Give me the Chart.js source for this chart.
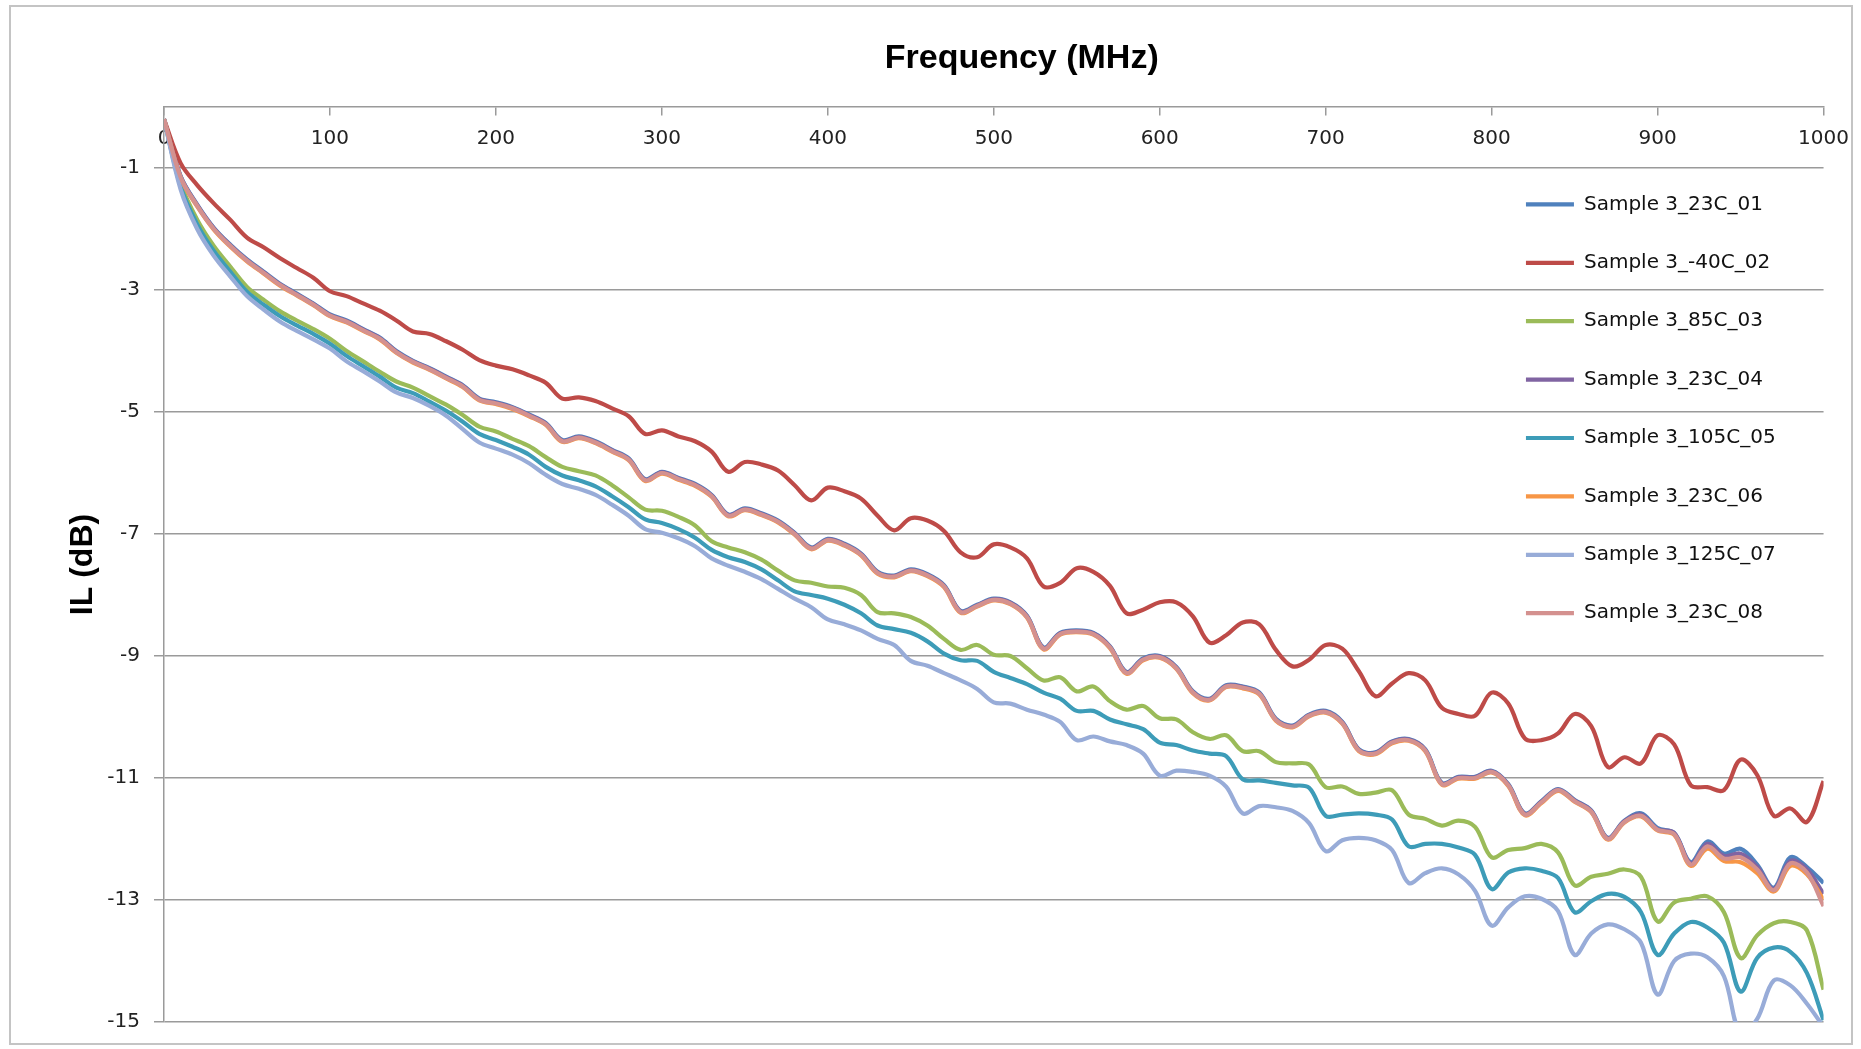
<!DOCTYPE html>
<html>
<head>
<meta charset="utf-8">
<title>Insertion loss vs frequency</title>
<script src="https://cdn.jsdelivr.net/npm/chart.js@4.4.0/dist/chart.umd.min.js"></script>
<style>
  html, body { margin:0; padding:0; background:#fff; }
  #wrap { position:relative; width:1861px; height:1049px; }
  #frame { position:absolute; left:9px; top:5px; width:1840px; height:1036px; border:2px solid #c4c4c4; pointer-events:none; }
</style>
</head>
<body>
<div id="wrap">
  <canvas id="ilChart"></canvas>
  <div id="frame"></div>
</div>
<script>
/* ===== DATA ===== */
const xTitle = 'Frequency (MHz)';
const yTitle = 'IL (dB)';
const xTicks = [0,100,200,300,400,500,600,700,800,900,1000];
const yTicks = [-1,-3,-5,-7,-9,-11,-13,-15];

const freqMHz = [
  0,10,20,30,40,50,60,70,80,90,100,110,120,130,140,150,160,170,180,190,
  200,210,220,230,240,250,260,270,280,290,300,310,320,330,340,350,360,370,380,390,
  400,410,420,430,440,450,460,470,480,490,500,510,520,530,540,550,560,570,580,590,
  600,610,620,630,640,650,660,670,680,690,700,710,720,730,740,750,760,770,780,790,
  800,810,820,830,840,850,860,870,880,890,900,910,920,930,940,950,960,970,980,990,1000
];

const seriesNames = ['Sample 3_23C_01','Sample 3_-40C_02','Sample 3_85C_03','Sample 3_23C_04',
                     'Sample 3_105C_05','Sample 3_23C_06','Sample 3_125C_07','Sample 3_23C_08'];
const seriesColors = ['#4F81BD','#BE4B48','#9BBB59','#8064A2','#3D9CB8','#F79646','#98ACD8','#D4918F'];

const il01 = [
  -0.2,-1.13,-1.6,-1.98,-2.26,-2.5,-2.7,-2.9,-3.06,-3.22,
  -3.4,-3.5,-3.64,-3.78,-4.0,-4.16,-4.28,-4.42,-4.56,-4.78,
  -4.84,-4.92,-5.04,-5.18,-5.46,-5.4,-5.48,-5.62,-5.76,-6.1,
  -5.98,-6.08,-6.18,-6.36,-6.68,-6.58,-6.66,-6.78,-6.98,-7.22,
  -7.08,-7.16,-7.32,-7.62,-7.68,-7.58,-7.66,-7.84,-8.26,-8.16,
  -8.06,-8.12,-8.34,-8.86,-8.62,-8.58,-8.62,-8.84,-9.26,-9.04,
  -9.0,-9.18,-9.58,-9.7,-9.48,-9.5,-9.6,-10.03,-10.14,-9.96,
  -9.9,-10.08,-10.53,-10.58,-10.4,-10.36,-10.53,-11.08,-10.98,-10.98,
  -10.88,-11.1,-11.58,-11.38,-11.18,-11.36,-11.53,-11.98,-11.7,-11.58,
  -11.82,-11.9,-12.38,-12.04,-12.24,-12.16,-12.42,-12.8,-12.3,-12.46,
  -12.72
];
const il02 = [
  -0.2,-0.92,-1.28,-1.58,-1.85,-2.14,-2.3,-2.48,-2.64,-2.8,
  -3.02,-3.1,-3.22,-3.34,-3.5,-3.68,-3.72,-3.84,-3.98,-4.15,
  -4.24,-4.3,-4.4,-4.52,-4.78,-4.76,-4.82,-4.94,-5.07,-5.36,
  -5.3,-5.4,-5.48,-5.65,-5.98,-5.82,-5.86,-5.96,-6.2,-6.45,
  -6.24,-6.3,-6.42,-6.7,-6.94,-6.74,-6.78,-6.95,-7.3,-7.38,
  -7.17,-7.22,-7.4,-7.86,-7.8,-7.56,-7.62,-7.85,-8.3,-8.24,
  -8.12,-8.12,-8.35,-8.78,-8.66,-8.45,-8.48,-8.9,-9.17,-9.06,
  -8.82,-8.88,-9.25,-9.66,-9.45,-9.28,-9.4,-9.85,-9.95,-9.98,
  -9.6,-9.78,-10.35,-10.38,-10.27,-9.95,-10.15,-10.82,-10.66,-10.76,
  -10.3,-10.45,-11.12,-11.15,-11.2,-10.7,-10.95,-11.62,-11.5,-11.72,
  -11.05
];
const il03 = [
  -0.2,-1.25,-1.85,-2.28,-2.62,-2.95,-3.16,-3.35,-3.5,-3.64,
  -3.8,-4.0,-4.17,-4.34,-4.5,-4.6,-4.74,-4.88,-5.05,-5.24,
  -5.32,-5.44,-5.56,-5.74,-5.9,-5.97,-6.04,-6.2,-6.4,-6.6,
  -6.62,-6.72,-6.86,-7.12,-7.22,-7.3,-7.42,-7.6,-7.76,-7.8,
  -7.86,-7.88,-8.0,-8.28,-8.3,-8.36,-8.5,-8.72,-8.9,-8.82,
  -8.98,-9.0,-9.2,-9.4,-9.35,-9.58,-9.5,-9.74,-9.88,-9.82,
  -10.02,-10.04,-10.25,-10.36,-10.3,-10.56,-10.56,-10.74,-10.76,-10.78,
  -11.15,-11.14,-11.26,-11.24,-11.2,-11.6,-11.67,-11.78,-11.7,-11.8,
  -12.3,-12.18,-12.15,-12.08,-12.22,-12.76,-12.62,-12.57,-12.5,-12.62,
  -13.35,-13.04,-12.98,-12.94,-13.2,-13.95,-13.58,-13.38,-13.36,-13.5,
  -14.47
];
const il04 = [
  -0.2,-1.14,-1.61,-1.99,-2.27,-2.51,-2.71,-2.91,-3.07,-3.23,
  -3.41,-3.51,-3.65,-3.79,-4.01,-4.17,-4.29,-4.43,-4.57,-4.79,
  -4.85,-4.93,-5.05,-5.19,-5.47,-5.41,-5.49,-5.63,-5.77,-6.11,
  -5.99,-6.09,-6.19,-6.37,-6.69,-6.59,-6.67,-6.79,-6.99,-7.23,
  -7.09,-7.17,-7.33,-7.63,-7.69,-7.59,-7.67,-7.85,-8.27,-8.17,
  -8.07,-8.13,-8.35,-8.87,-8.63,-8.59,-8.63,-8.85,-9.27,-9.05,
  -9.01,-9.19,-9.59,-9.71,-9.49,-9.51,-9.61,-10.04,-10.15,-9.97,
  -9.91,-10.09,-10.54,-10.59,-10.41,-10.37,-10.54,-11.09,-10.99,-10.99,
  -10.89,-11.11,-11.59,-11.39,-11.19,-11.37,-11.54,-11.99,-11.71,-11.6,
  -11.84,-11.9,-12.4,-12.08,-12.28,-12.24,-12.46,-12.82,-12.36,-12.5,
  -12.9
];
const il05 = [
  -0.2,-1.3,-1.92,-2.36,-2.7,-3.03,-3.24,-3.43,-3.58,-3.72,
  -3.88,-4.08,-4.25,-4.42,-4.6,-4.69,-4.83,-4.98,-5.16,-5.36,
  -5.46,-5.57,-5.7,-5.9,-6.04,-6.12,-6.22,-6.38,-6.56,-6.76,
  -6.82,-6.92,-7.06,-7.26,-7.38,-7.46,-7.58,-7.76,-7.94,-8.0,
  -8.06,-8.16,-8.3,-8.5,-8.56,-8.62,-8.76,-8.96,-9.07,-9.08,
  -9.26,-9.36,-9.46,-9.6,-9.7,-9.9,-9.9,-10.04,-10.12,-10.2,
  -10.42,-10.46,-10.55,-10.6,-10.64,-11.02,-11.04,-11.08,-11.12,-11.16,
  -11.62,-11.6,-11.58,-11.6,-11.68,-12.12,-12.08,-12.08,-12.14,-12.26,
  -12.82,-12.55,-12.48,-12.52,-12.64,-13.2,-13.02,-12.9,-12.95,-13.2,
  -13.9,-13.55,-13.36,-13.45,-13.7,-14.5,-13.95,-13.78,-13.85,-14.2,
  -14.97
];
const il06 = [
  -0.2,-1.16,-1.63,-2.01,-2.29,-2.53,-2.73,-2.93,-3.09,-3.25,
  -3.43,-3.53,-3.67,-3.81,-4.03,-4.19,-4.31,-4.45,-4.59,-4.81,
  -4.87,-4.95,-5.07,-5.21,-5.49,-5.43,-5.51,-5.65,-5.79,-6.13,
  -6.01,-6.11,-6.21,-6.39,-6.71,-6.61,-6.69,-6.81,-7.01,-7.25,
  -7.11,-7.19,-7.35,-7.65,-7.71,-7.61,-7.69,-7.87,-8.29,-8.19,
  -8.09,-8.15,-8.37,-8.89,-8.65,-8.61,-8.65,-8.87,-9.29,-9.07,
  -9.03,-9.21,-9.61,-9.73,-9.51,-9.53,-9.63,-10.06,-10.17,-9.99,
  -9.93,-10.11,-10.56,-10.61,-10.43,-10.39,-10.56,-11.11,-11.01,-11.01,
  -10.91,-11.13,-11.61,-11.41,-11.21,-11.39,-11.56,-12.01,-11.73,-11.63,
  -11.86,-11.93,-12.44,-12.16,-12.36,-12.38,-12.56,-12.86,-12.44,-12.58,
  -13.0
];
const il07 = [
  -0.2,-1.35,-2.0,-2.44,-2.78,-3.1,-3.32,-3.52,-3.67,-3.81,
  -3.96,-4.17,-4.33,-4.5,-4.68,-4.77,-4.9,-5.06,-5.28,-5.5,
  -5.6,-5.7,-5.84,-6.03,-6.18,-6.26,-6.36,-6.52,-6.7,-6.92,
  -6.98,-7.07,-7.2,-7.4,-7.52,-7.62,-7.74,-7.9,-8.06,-8.2,
  -8.4,-8.48,-8.58,-8.72,-8.82,-9.08,-9.16,-9.28,-9.4,-9.54,
  -9.76,-9.78,-9.88,-9.96,-10.08,-10.38,-10.32,-10.4,-10.46,-10.6,
  -10.96,-10.88,-10.9,-10.96,-11.14,-11.58,-11.46,-11.48,-11.54,-11.74,
  -12.2,-12.02,-11.98,-12.02,-12.18,-12.72,-12.56,-12.48,-12.58,-12.85,
  -13.42,-13.12,-12.94,-12.98,-13.18,-13.9,-13.55,-13.4,-13.48,-13.7,
  -14.55,-14.0,-13.88,-13.94,-14.25,-15.2,-14.95,-14.32,-14.4,-14.7,
  -15.08
];
const il08 = [
  -0.2,-1.15,-1.62,-2.0,-2.28,-2.52,-2.72,-2.92,-3.08,-3.24,
  -3.42,-3.52,-3.66,-3.8,-4.02,-4.18,-4.3,-4.44,-4.58,-4.8,
  -4.86,-4.94,-5.06,-5.2,-5.48,-5.42,-5.5,-5.64,-5.78,-6.12,
  -6.0,-6.1,-6.2,-6.38,-6.7,-6.6,-6.68,-6.8,-7.0,-7.24,
  -7.1,-7.18,-7.34,-7.64,-7.7,-7.6,-7.68,-7.86,-8.28,-8.18,
  -8.08,-8.14,-8.36,-8.88,-8.64,-8.6,-8.64,-8.86,-9.28,-9.06,
  -9.02,-9.2,-9.6,-9.72,-9.5,-9.52,-9.62,-10.05,-10.16,-9.98,
  -9.92,-10.1,-10.55,-10.6,-10.42,-10.38,-10.55,-11.1,-11.0,-11.0,
  -10.9,-11.12,-11.6,-11.4,-11.2,-11.38,-11.55,-12.0,-11.72,-11.62,
  -11.85,-11.92,-12.42,-12.12,-12.32,-12.3,-12.5,-12.84,-12.4,-12.55,
  -13.1
];
const seriesValues = [il01, il02, il03, il04, il05, il06, il07, il08];

/* ===== STYLE ===== */
const TICK_FONT = { family: "'DejaVu Sans', sans-serif", size: 20 };
const GRID_COLOR = '#9a9a9a';

// x-axis title sits above the top axis line, slightly right of the plot centre
const freqTitle = {
  id: 'freqTitle',
  afterDraw(chart) {
    const { ctx, chartArea } = chart;
    ctx.save();
    ctx.font = "bold 34px 'Liberation Sans', Arial, sans-serif";
    ctx.fillStyle = '#000';
    ctx.textAlign = 'center';
    ctx.textBaseline = 'middle';
    ctx.fillText(xTitle, (chartArea.left + chartArea.right) / 2 + 28, chartArea.top - 48);
    ctx.restore();
  }
};

// legend floats inside the plot, upper right
const legendInside = {
  id: 'legendInside',
  afterLayout(chart) {
    const lg = chart.legend, ca = chart.chartArea;
    if (!lg) return;
    lg.left = ca.right - 336; lg.right = lg.left + lg.width;
    lg.top = ca.top + 49;     lg.bottom = lg.top + lg.height;
  }
};

/* ===== CHART ===== */
function chartInsertionLoss(id) {
  const ctx = document.getElementById(id); if (!ctx) return;
  new Chart(ctx, {
    type: 'line',
    data: {
      datasets: seriesNames.map((name, i) => ({
        label: name,
        data: freqMHz.map((f, k) => ({ x: f, y: seriesValues[i][k] })),
        borderColor: seriesColors[i], backgroundColor: seriesColors[i],
        borderWidth: 4.2, pointRadius: 0, tension: 0.35, fill: false,
        order: seriesNames.length - 1 - i,
      }))
    },
    options: {
      responsive:true, maintainAspectRatio:false, animation:false,
      layout:{ padding:{ left:10, right:37, top:107, bottom:27 } },
      plugins:{
        title:{ display:false },
        tooltip:{ enabled:false },
        legend:{ position:'chartArea', align:'start',
          labels:{ font:TICK_FONT, color:'#111', usePointStyle:true, pointStyle:'line',
            pointStyleWidth:48, padding:38.4, sort:(a, b) => a.datasetIndex - b.datasetIndex }
        }
      },
      scales:{
        x:{ type:'linear', position:{ y:0 }, min:0, max:1000,
          afterBuildTicks: s => { s.ticks = xTicks.map(v => ({ value:v })); },
          grid:{ drawOnChartArea:false, drawTicks:true, tickLength:8, color:GRID_COLOR, lineWidth:1.5 },
          border:{ display:true, color:GRID_COLOR, width:1.5 },
          ticks:{ font:TICK_FONT, color:'#222', padding:12, maxRotation:0, callback: v => String(v) }
        },
        y:{ type:'linear', min:-15, max:0,
          afterBuildTicks: s => { s.ticks = yTicks.map(v => ({ value:v })); },
          afterFit: s => { s.width = 154; },
          grid:{ color:GRID_COLOR, lineWidth:1.5, drawTicks:true, tickLength:10 },
          border:{ display:true, color:GRID_COLOR, width:1.5 },
          ticks:{ font:TICK_FONT, color:'#222', padding:14, callback: v => String(v) },
          title:{ display:true, text:yTitle, color:'#000', padding:{ top:54, bottom:0 },
            font:{ family:"'Liberation Sans', Arial, sans-serif", size:32, weight:'bold' } }
        }
      }
    },
    plugins:[freqTitle, legendInside]
  });
}

chartInsertionLoss('ilChart');
</script>
</body>
</html>
